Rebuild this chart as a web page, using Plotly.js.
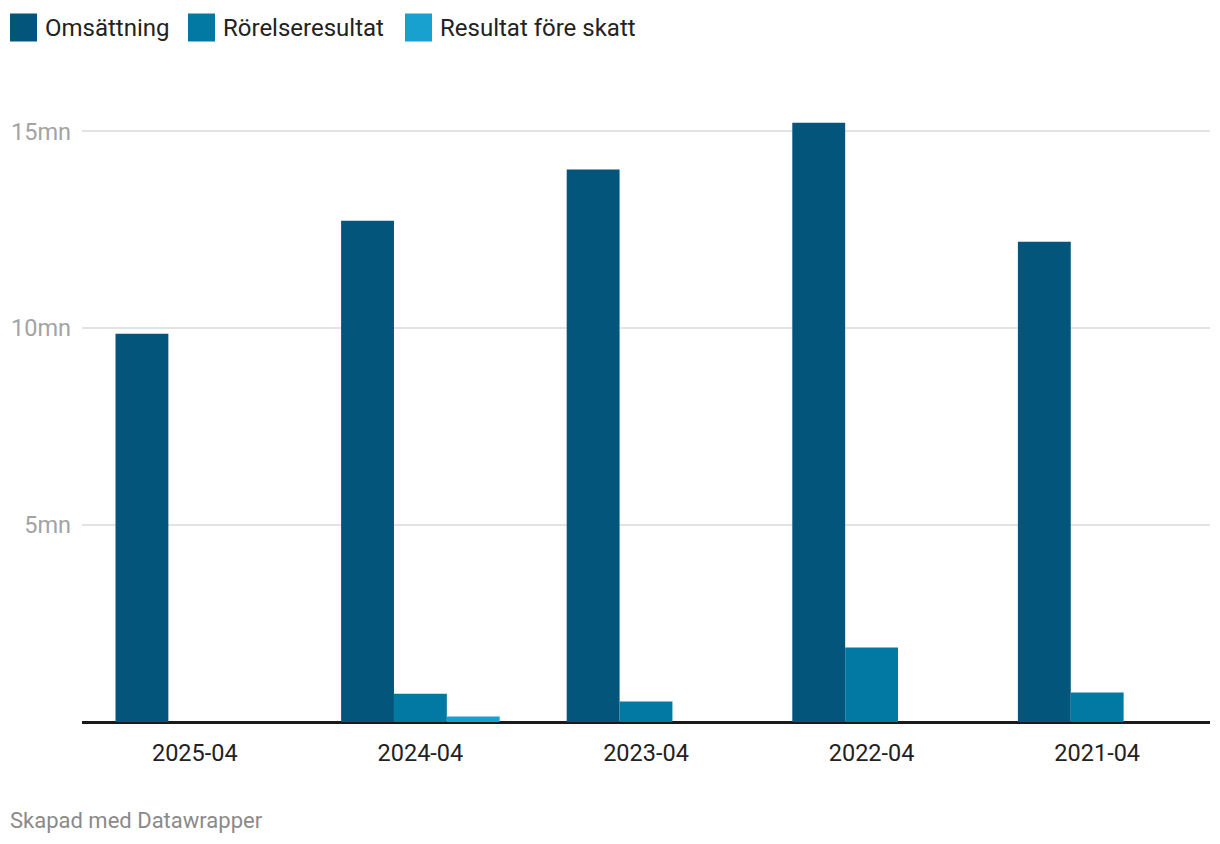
<!DOCTYPE html>
<html>
<head>
<meta charset="utf-8">
<script src="https://cdn.plot.ly/plotly-3.0.1.min.js"></script>
<style>
  html, body { margin: 0; padding: 0; background: #fff; }
  #chart { width: 1220px; height: 844px; }
</style>
</head>
<body>
<div id="chart"></div>
<script>
// Data (values in millions)
const categories = ["2025-04", "2024-04", "2023-04", "2022-04", "2021-04"];
const seriesNames = ["Omsättning", "Rörelseresultat", "Resultat före skatt"];
const omsattning = [9.86, 12.73, 14.03, 15.22, 12.20];
const rorelseresultat = [0, 0.72, 0.52, 1.89, 0.75];
const resultatForeSkatt = [0, 0.14, 0, 0, 0];
const yTickVals = [5, 10, 15];
const yTickText = ["5mn", "10mn", "15mn"];
const footerText = "Skapad med Datawrapper";

const colors = ["#03557b", "#0279a3", "#18a0cf"];
const seriesValues = [omsattning, rorelseresultat, resultatForeSkatt];
const FONT = "Roboto, 'Noto Sans', sans-serif";

const traces = seriesValues.map((vals, i) => ({
  type: "bar",
  name: seriesNames[i],
  x: categories,
  y: vals.map(v => v * 1e6),
  marker: { color: colors[i], line: { width: 0 } },
  hoverinfo: "x+y+name",
  showlegend: false
}));

// Custom legend (large squares like the reference)
const legendX = [10, 188, 405];
const shapes = [];
const annotations = [];
legendX.forEach((x0, i) => {
  shapes.push({
    type: "rect", xref: "paper", yref: "paper",
    x0: (x0 - 82) / 1128, x1: (x0 + 27 - 82) / 1128,
    y0: (722.5 - 42) / 630, y1: (722.5 - 14) / 630,
    fillcolor: colors[i], line: { width: 0 }
  });
  annotations.push({
    xref: "paper", yref: "paper",
    x: (x0 + 32.5 - 82) / 1128, y: (722.5 - 28.5) / 630,
    xanchor: "left", yanchor: "middle",
    text: seriesNames[i], showarrow: false,
    font: { family: FONT, size: 24, color: "#222222" }
  });
});
annotations.push({
  xref: "paper", yref: "paper",
  x: (8 - 82) / 1128, y: (722.5 - 821) / 630,
  xanchor: "left", yanchor: "middle",
  text: footerText, showarrow: false,
  font: { family: FONT, size: 22, color: "#8a8a8a" }
});

const layout = {
  width: 1220, height: 844,
  margin: { l: 82, r: 10, t: 92, b: 122, pad: 0 },
  paper_bgcolor: "#ffffff", plot_bgcolor: "#ffffff",
  barmode: "group",
  bargap: 0.297,
  bargroupgap: 0,
  showlegend: false,
  font: { family: FONT },
  xaxis: {
    type: "category",
    categoryorder: "array", categoryarray: categories,
    showgrid: false, zeroline: false, showline: false,
    ticks: "", ticklabelstandoff: 14,
    tickfont: { family: FONT, size: 23.5, color: "#222222" },
    fixedrange: true
  },
  yaxis: {
    range: [0, 16e6],
    tickvals: yTickVals.map(v => v * 1e6),
    ticktext: yTickText,
    showgrid: true, gridcolor: "#e3e3e3", gridwidth: 1.5,
    zeroline: true, zerolinecolor: "#1a1a1a", zerolinewidth: 2.5,
    showline: false, ticks: "",
    ticklabelstandoff: 10,
    tickfont: { family: FONT, size: 23.5, color: "#a3a3a3" },
    fixedrange: true
  },
  shapes: shapes,
  annotations: annotations
};

Plotly.newPlot("chart", traces, layout, { displayModeBar: false, staticPlot: false });
</script>
</body>
</html>
